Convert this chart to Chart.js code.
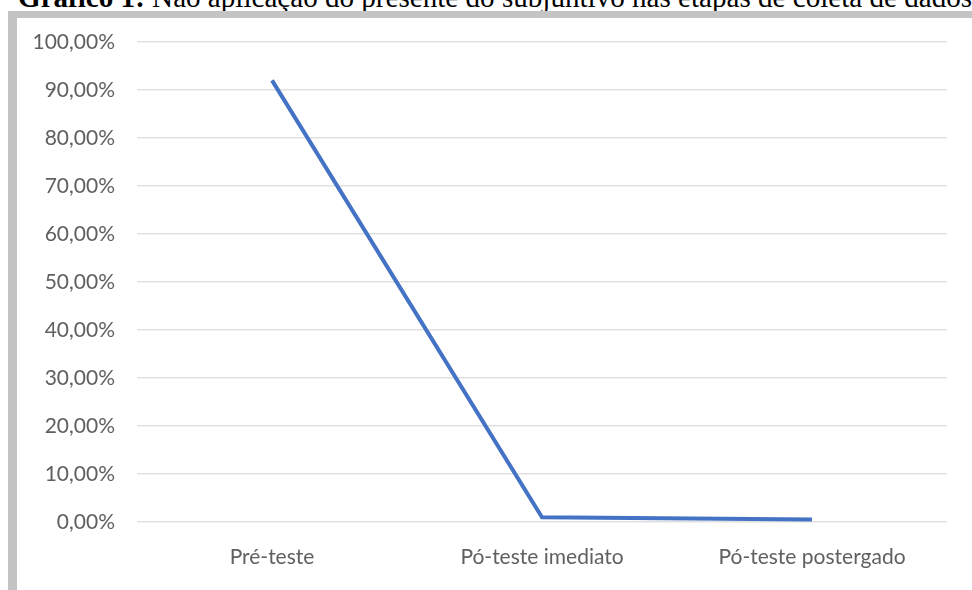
<!DOCTYPE html>
<html lang="pt">
<head>
<meta charset="utf-8">
<script src="https://cdn.jsdelivr.net/npm/chart.js@4"></script>
<style>
  html, body { margin: 0; padding: 0; background: #ffffff; overflow: hidden; }
  body { width: 972px; height: 590px; position: relative; }
  .titulo {
    position: absolute; left: 18px; top: -17px;
    font-family: "Liberation Serif", "Times New Roman", serif;
    font-size: 29.1px; line-height: 29px; white-space: nowrap; color: #000;
  }
  .moldura {
    position: absolute; left: 8px; top: 11px; width: 1000px; height: 575px;
    border-left: 9px solid #c4c4c4; border-top: 7px solid #c4c4c4; border-bottom: 7px solid #d0d0d0;
    background: #ffffff;
  }
  #grafico { position: absolute; left: 17px; top: 18px; }
</style>
</head>
<body>
<div class="titulo"><b>Gráfico 1:</b> Não aplicação do presente do subjuntivo nas etapas de coleta de dados</div>
<div class="moldura"></div>
<canvas id="grafico" width="955" height="568" style="width:955px;height:568px"></canvas>
<script>
// Etapas de coleta
const etapas = ["Pré-teste", "Pó-teste imediato", "Pó-teste postergado"];
// Percentual de não aplicação do presente do subjuntivo
const naoAplicacao = [92.0, 1.0, 0.5];
// Escala do eixo vertical (%)
const eixoMin = 0;
const eixoMax = 100;
const eixoPasso = 10;

const fonteEixos = { family: "Lato, 'Open Sans', sans-serif", size: 21 };
const corTexto = "#606060";

new Chart(document.getElementById("grafico"), {
  type: "line",
  data: {
    labels: etapas,
    datasets: [{
      data: naoAplicacao,
      borderColor: "#4472C4",
      borderWidth: 4,
      pointRadius: 0,
      pointHoverRadius: 0,
      tension: 0,
      fill: false
    }]
  },
  options: {
    responsive: false,
    animation: false,
    layout: { padding: { top: 24, right: 25, left: 0, bottom: 0 } },
    plugins: { legend: { display: false }, tooltip: { enabled: false }, title: { display: false } },
    scales: {
      x: {
        offset: true,
        grid: { display: false, drawTicks: false },
        border: { display: false },
        ticks: { font: fonteEixos, color: corTexto, padding: 23, maxRotation: 0, autoSkip: false },
        afterFit: (s) => { s.height = 64; }
      },
      y: {
        min: eixoMin,
        max: eixoMax,
        grid: { color: "#e0e0e0", lineWidth: 1.5, drawTicks: false },
        border: { display: false },
        ticks: {
          stepSize: eixoPasso,
          font: fonteEixos,
          color: corTexto,
          padding: 22,
          callback: (v) => v.toFixed(2).replace(".", ",") + "%"
        },
        afterFit: (s) => { s.width = 120; s.paddingTop = 0; s.paddingBottom = 0; }
      }
    }
  }
});
</script>
</body>
</html>
